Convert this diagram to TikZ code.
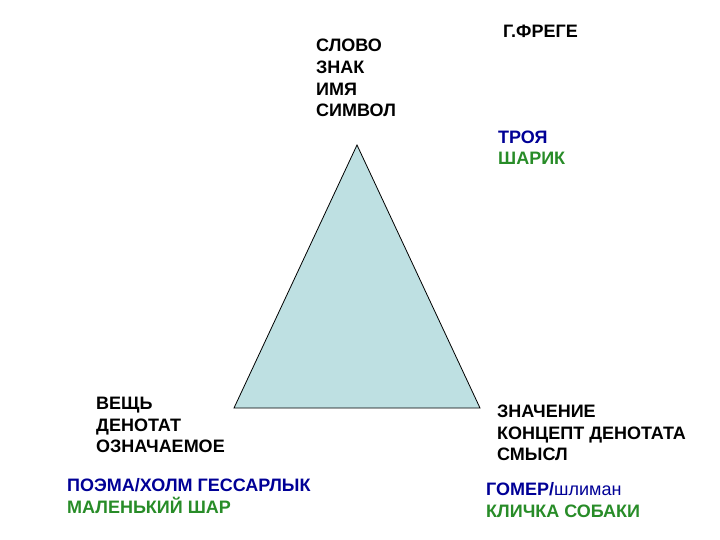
\documentclass[tikz,border=0pt]{standalone}
\usepackage{fontspec}
\setmainfont{Liberation Sans}
\definecolor{tblue}{RGB}{0,0,150}
\definecolor{tgreen}{RGB}{40,140,40}
\definecolor{trifill}{RGB}{190,224,226}
\begin{document}
\begin{tikzpicture}[x=1pt,y=-1pt,
  lbl/.style={anchor=west,inner sep=0pt,font=\fontsize{18}{21.8}\selectfont\bfseries,align=left}]
\useasboundingbox (0,0) rectangle (720,540);
\coordinate (A) at (357,145);
\coordinate (B) at (234,408);
\coordinate (C) at (480,408);
\draw[fill=trifill,line width=0.8pt] (A) -- (B) -- (C) -- cycle;
\node[lbl] (frege) at (503,31) {Г.ФРЕГЕ};
\node[lbl] (top) at (316,78) {СЛОВО\\ЗНАК\\ИМЯ\\СИМВОЛ};
\node[lbl,text=tblue] (troya) at (498,137) {ТРОЯ};
\node[lbl,text=tgreen] (sharik) at (498,158) {ШАРИК};
\node[lbl] (left) at (96,425) {ВЕЩЬ\\ДЕНОТАТ\\ОЗНАЧАЕМОЕ};
\node[lbl,text=tblue] (poema) at (67,485) {ПОЭМА/ХОЛМ ГЕССАРЛЫК};
\node[lbl,text=tgreen] (shar) at (67,505) {МАЛЕНЬКИЙ ШАР};
\node[lbl] (right) at (497,433) {ЗНАЧЕНИЕ\\КОНЦЕПТ ДЕНОТАТА\\СМЫСЛ};
\node[lbl,text=tblue] (gomer) at (486,489) {ГОМЕР/{\mdseries шлиман}};
\node[lbl,text=tgreen] (klichka) at (486,511) {КЛИЧКА СОБАКИ};
\end{tikzpicture}
\end{document}
